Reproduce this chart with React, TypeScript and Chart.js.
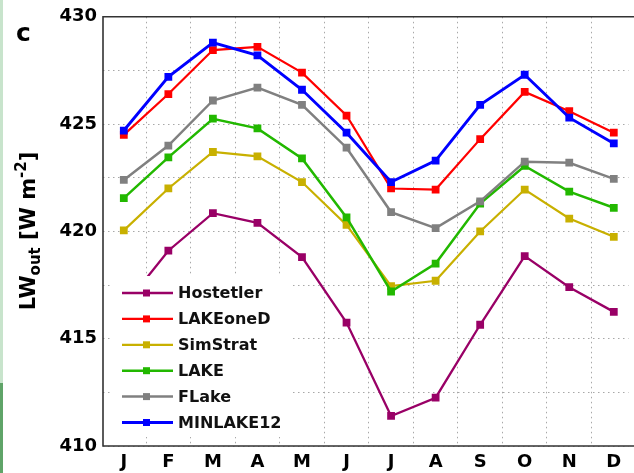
import React, { useEffect, useRef } from 'react';
import { Chart, registerables } from 'chart.js';

Chart.register(...registerables);

const months = ['J', 'F', 'M', 'A', 'M', 'J', 'J', 'A', 'S', 'O', 'N', 'D'];
const hostetler = [416.5, 419.1, 420.85, 420.4, 418.8, 415.75, 411.4, 412.25, 415.65, 418.85, 417.4, 416.25];
const lakeOneD = [424.5, 426.4, 428.45, 428.6, 427.4, 425.4, 422.0, 421.95, 424.3, 426.5, 425.6, 424.6];
const simStrat = [420.05, 422.0, 423.7, 423.5, 422.3, 420.3, 417.45, 417.7, 420.0, 421.95, 420.6, 419.75];
const lake = [421.55, 423.45, 425.25, 424.8, 423.4, 420.65, 417.2, 418.5, 421.3, 423.05, 421.85, 421.1];
const fLake = [422.4, 424.0, 426.1, 426.7, 425.9, 423.9, 420.9, 420.15, 421.4, 423.25, 423.2, 422.45];
const minlake12 = [424.7, 427.2, 428.8, 428.2, 426.6, 424.6, 422.3, 423.3, 425.9, 427.3, 425.3, 424.1];
const yMin = 410;
const yMax = 430;
const yStep = 2.5;
const yLabelStep = 5;

const seriesNames = ['Hostetler', 'LAKEoneD', 'SimStrat', 'LAKE', 'FLake', 'MINLAKE12'];
const seriesValues = [hostetler, lakeOneD, simStrat, lake, fLake, minlake12];
const seriesColors = ['#990066', '#ff0000', '#c8b000', '#22b800', '#808080', '#0000ff'];
const seriesWidths = [2.3, 2.2, 2.2, 2.5, 2.5, 2.9];
const seriesOrder = [5, 4, 3, 2, 1, 0];

const FONT = '"DejaVu Sans", sans-serif';

const decorPlugin = {
  id: 'decor',
  afterDatasetsDraw(chart: any) {
    const { ctx, chartArea: ca } = chart;
    ctx.save();
    ctx.fillStyle = '#ffffff';
    ctx.fillRect(ca.left + 9, ca.bottom - 170, 178, 161);
    const x0 = ca.left + 19;
    const x1 = ca.left + 70;
    const xm = (x0 + x1) / 2 - 1;
    const rowY0 = ca.bottom - 153;
    const rowStep = 25.9;
    ctx.font = `bold 16px ${FONT}`;
    ctx.textBaseline = 'middle';
    ctx.textAlign = 'left';
    seriesNames.forEach((name, i) => {
      const y = rowY0 + i * rowStep;
      ctx.strokeStyle = seriesColors[i];
      ctx.lineWidth = seriesWidths[i];
      ctx.beginPath();
      ctx.moveTo(x0, y);
      ctx.lineTo(x1, y);
      ctx.stroke();
      ctx.fillStyle = seriesColors[i];
      ctx.fillRect(xm - 3.5, y - 3.5, 7, 7);
      ctx.fillStyle = '#111';
      ctx.fillText(name, x1 + 5, y + 1);
    });
    ctx.restore();
  },
  afterDraw(chart: any) {
    const { ctx, chartArea: ca } = chart;
    ctx.save();
    ctx.strokeStyle = '#333';
    ctx.lineWidth = 1.6;
    ctx.beginPath();
    ctx.moveTo(chart.width, ca.top);
    ctx.lineTo(ca.left, ca.top);
    ctx.lineTo(ca.left, ca.bottom);
    ctx.lineTo(chart.width, ca.bottom);
    ctx.stroke();
    ctx.fillStyle = '#000';
    ctx.font = `bold 25px ${FONT}`;
    ctx.textBaseline = 'alphabetic';
    ctx.textAlign = 'left';
    ctx.fillText('c', 16, 41);
    ctx.translate(35, 231);
    ctx.rotate(-Math.PI / 2);
    const big = `bold 21px ${FONT}`;
    const small = `bold 15px ${FONT}`;
    const parts: [string, string, number][] = [
      ['LW', big, 0],
      ['out', small, 5],
      [' [W m', big, 0],
      ['-2', small, -9],
      [']', big, 0],
    ];
    let total = 0;
    parts.forEach(([t, f]) => {
      ctx.font = f;
      total += ctx.measureText(t).width;
    });
    let x = -total / 2;
    parts.forEach(([t, f, dy]) => {
      ctx.font = f;
      ctx.fillText(t, x, dy);
      x += ctx.measureText(t).width;
    });
    ctx.restore();
  },
};

export default function App() {
  const ref = useRef<HTMLCanvasElement | null>(null);

  useEffect(() => {
    document.body.style.margin = '0';
    const canvas = ref.current;
    if (!canvas) return;
    const chart = new Chart(canvas, {
      type: 'line',
      data: {
        datasets: seriesNames.map((name, i) => ({
          label: name,
          data: seriesValues[i].map((v, k) => ({ x: k, y: v })),
          borderColor: seriesColors[i],
          backgroundColor: seriesColors[i],
          borderWidth: seriesWidths[i],
          pointStyle: 'rect',
          pointRadius: 5.5,
          pointBorderWidth: 0,
          tension: 0,
          order: seriesOrder[i],
        })),
      },
      options: {
        animation: false,
        responsive: false,
        maintainAspectRatio: false,
        layout: { padding: { top: 16, left: 0, right: 0, bottom: 0 } },
        plugins: { legend: { display: false }, tooltip: { enabled: false } },
        scales: {
          x: {
            type: 'linear',
            min: -0.467,
            max: 11.33,
            afterBuildTicks: (s: any) => {
              s.ticks = months.map((_, i) => ({ value: i }));
            },
            afterFit: (s: any) => {
              s.height = 27;
            },
            ticks: {
              callback: (v: any) => months[Math.round(Number(v))] ?? '',
              autoSkip: false,
              maxRotation: 0,
              color: '#000',
              padding: 6,
              font: { family: FONT, weight: 'bold', size: 18 },
            },
            grid: { offset: true, color: '#a8a8a8', lineWidth: 1, drawTicks: false },
            border: { display: false, dash: [1.5, 3.5] },
          },
          y: {
            type: 'linear',
            min: yMin,
            max: yMax,
            afterFit: (s: any) => {
              s.width = 103;
            },
            ticks: {
              stepSize: yStep,
              callback: (v: any) => (Number(v) % yLabelStep === 0 ? String(v) : ''),
              color: '#000',
              padding: 6,
              font: { family: FONT, weight: 'bold', size: 18 },
            },
            grid: { color: '#a8a8a8', lineWidth: 1, drawTicks: false },
            border: { display: false, dash: [1.5, 3.5] },
          },
        },
      },
      plugins: [decorPlugin],
    } as any);
    return () => chart.destroy();
  }, []);

  return (
    <div style={{ position: 'relative', width: 634, height: 473, background: '#fff' }}>
      <canvas ref={ref} width={634} height={473} style={{ display: 'block' }} />
      <div style={{ position: 'absolute', left: 0, top: 0, width: 3, height: 383, background: '#c8e4cc' }} />
      <div style={{ position: 'absolute', left: 0, top: 383, width: 3, height: 90, background: '#5fa468' }} />
    </div>
  );
}
